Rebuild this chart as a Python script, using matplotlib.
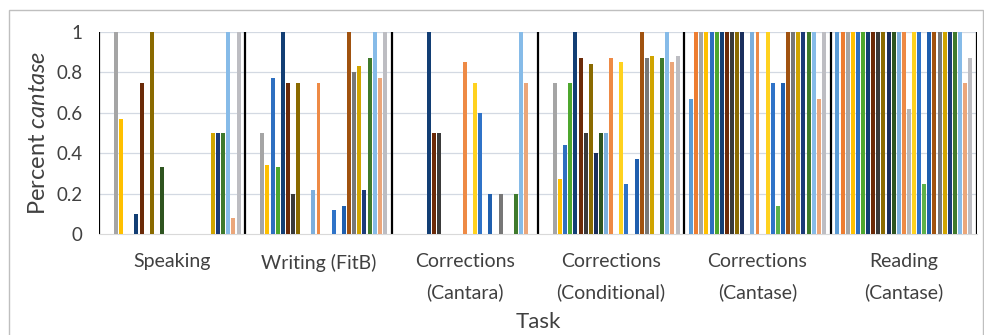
import numpy as np
import matplotlib
matplotlib.use("Agg")
import matplotlib.pyplot as plt
from matplotlib.patches import Rectangle

tasks = ["Speaking", "Writing (FitB)", "Corrections\n(Cantara)",
         "Corrections\n(Conditional)", "Corrections\n(Cantase)", "Reading\n(Cantase)"]

# one value per participant series (27 series), per task
speaking = [0, 0, 1, 0.57, 0, 0, 0.1, 0.75, 0, 1, 0, 0.33, 0, 0, 0, 0, 0, 0, 0, 0, 0,
            0.5, 0.5, 0.5, 1, 0.08, 1]
writing = [0, 0, 0.5, 0.34, 0.77, 0.33, 1, 0.75, 0.2, 0.75, 0, 0, 0.22, 0.75, 0, 0,
           0.12, 0, 0.14, 1, 0.8, 0.83, 0.22, 0.87, 1, 0.77, 1]
corr_cantara = [0, 0, 0, 0, 0, 0, 1, 0.5, 0.5, 0, 0, 0, 0, 0.85, 0, 0.75, 0.6, 0,
                0.2, 0, 0.2, 0, 0, 0.2, 1, 0.75, 0]
corr_conditional = [0, 0, 0.75, 0.27, 0.44, 0.75, 1, 0.87, 0.5, 0.84, 0.4, 0.5, 0.5,
                    0.87, 0, 0.85, 0.25, 0, 0.37, 1, 0.87, 0.88, 0, 0.87, 1, 0.85, 0.88]
corr_cantase = [0.67, 1, 1, 1, 1, 1, 1, 1, 1, 1, 1, 0, 1, 1, 0, 1, 0.75, 0.14, 0.75,
                1, 1, 1, 1, 1, 1, 0.67, 1]
reading = [1, 1, 1, 1, 1, 1, 1, 1, 1, 1, 1, 1, 1, 1, 0.62, 1, 1, 0.25, 1, 1, 1, 1, 1,
           1, 1, 0.75, 0.87]

yticks = [0, 0.2, 0.4, 0.6, 0.8, 1]
ytick_labels = ["0", "0.2", "0.4", "0.6", "0.8", "1"]

colors = ["#5B9BD5", "#ED7D31", "#A5A5A5", "#FFC000", "#2E6FC0", "#4EA72E",
          "#123E74", "#6B2A08", "#3A3A3A", "#8A6A00", "#1A2E5C", "#2E5420",
          "#7CAFDD", "#EE8A45", "#B7B7B7", "#FFD21F", "#2F73C8", "#5DB14A",
          "#1F5FAE", "#A0520F", "#777777", "#D0A400", "#1C3A78", "#3F7A2C",
          "#86BBE8", "#EBA67A", "#BDBDC2"]

data = np.array([speaking, writing, corr_cantara, corr_conditional, corr_cantase, reading])
n_groups, n_series = data.shape

plt.rcParams['font.family'] = ['Lato', 'DejaVu Sans']
plt.rcParams['mathtext.fontset'] = 'custom'
plt.rcParams['mathtext.rm'] = 'Lato'
plt.rcParams['mathtext.it'] = 'Lato:italic'

fig = plt.figure(figsize=(9.84, 3.35), dpi=100)
ax = fig.add_axes([99/984, 1-234/335, (977-99)/984, (234-32)/335])

slot = 0.0349
x = np.arange(n_groups)
start = -n_series * slot / 2 + slot / 2
for k in range(n_series):
    ax.bar(x + start + k * slot, data[:, k], width=slot * 0.78,
           color=colors[k], zorder=3, linewidth=0)

ax.set_xlim(-0.5, n_groups - 0.5)
ax.set_ylim(0, 1)
ax.set_yticks(yticks)
ax.set_yticklabels(ytick_labels, fontsize=13.5, color="#404040")
ax.set_xticks(x)
ax.set_xticklabels(tasks, fontsize=14, color="#404040", linespacing=1.85,
                   va='top')
ax.tick_params(axis='both', length=0)
ax.tick_params(axis='x', pad=14)
ax.tick_params(axis='y', pad=12)

for yv in yticks[1:]:
    ax.axhline(yv, color="#D3D9E2", lw=0.9, zorder=1)
for b in np.arange(-0.5, n_groups, 1.0):
    ax.axvline(b, color="black", lw=1.6, zorder=2)

for s in ["top", "right", "left"]:
    ax.spines[s].set_visible(False)
ax.spines["bottom"].set_color("#D9D9D9")

ax.set_ylabel(r"Percent $\it{cantase}$", fontsize=17, color="#404040", labelpad=5)
ax.set_xlabel("Task", fontsize=16, color="#404040", labelpad=8)

fig.patches.append(Rectangle((9/984, -0.01), (983-9)/984, 1 - 10/335 + 0.01,
                             transform=fig.transFigure, fill=False,
                             edgecolor="#BFBFBF", lw=1))

fig.savefig("out.png", dpi=100)
